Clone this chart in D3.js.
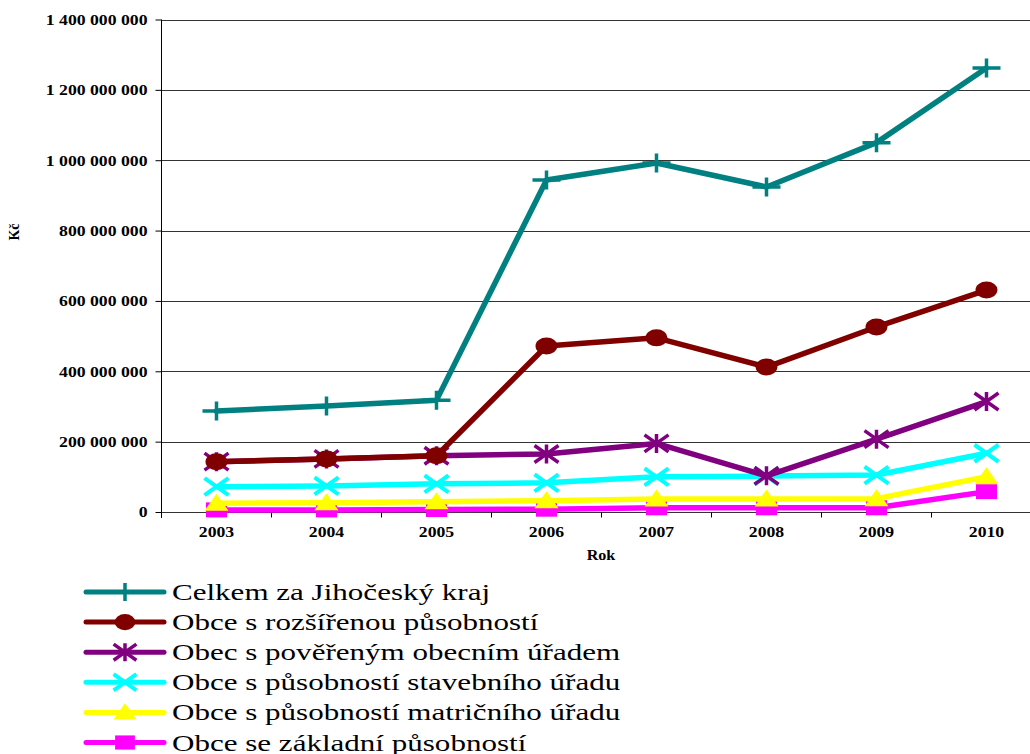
<!DOCTYPE html>
<html>
<head>
<meta charset="utf-8">
<script src="https://cdn.jsdelivr.net/npm/d3@7"></script>
<style>
  html, body { margin: 0; padding: 0; background: #fff; }
  svg { display: block; }
</style>
</head>
<body>
<svg id="chart" width="1030" height="754"></svg>
<script>
// Years on the category axis
const years = ["2003", "2004", "2005", "2006", "2007", "2008", "2009", "2010"];

// Expenditure per group of municipalities, Kč
const celkem      = [287e6, 301e6, 318e6, 944e6, 992e6, 924e6, 1050e6, 1262e6];
const rozsirenou  = [143e6, 151e6, 160e6, 472e6, 495e6, 412e6, 526e6, 631e6];
const poverenym   = [143e6, 151e6, 160e6, 165e6, 195e6, 103e6, 207e6, 314e6];
const stavebniho  = [72e6, 74e6, 80e6, 83e6, 100e6, 102e6, 105e6, 167e6];
const matricniho  = [25e6, 26e6, 29e6, 32e6, 37e6, 37e6, 38e6, 100e6];
const zakladni    = [6e6, 6e6, 7e6, 8e6, 12e6, 12e6, 12e6, 58e6];

const seriesNames = [
  "Celkem za Jihočeský kraj",
  "Obce s rozšířenou působností",
  "Obec s pověřeným obecním úřadem",
  "Obce s působností stavebního úřadu",
  "Obce s působností matričního úřadu",
  "Obce se základní působností"
];
const seriesColors = ["#008080", "#800000", "#800080", "#00ffff", "#ffff00", "#ff00ff"];
const seriesMarkers = ["plus", "circle", "star", "x", "triangle", "square"];
const seriesValues = [celkem, rozsirenou, poverenym, stavebniho, matricniho, zakladni];

const yTicks = [0, 200e6, 400e6, 600e6, 800e6, 1000e6, 1200e6, 1400e6];

const FONT = "Liberation Serif";

const series = seriesNames.map((name, i) => ({
  name, color: seriesColors[i], marker: seriesMarkers[i], values: seriesValues[i]
}));

const svg = d3.select("#chart");
const plot = { left: 161.5, right: 1041.5, top: 19.5, bottom: 512 };

const x = d3.scaleBand().domain(years).range([plot.left, plot.right]);
const cx = d => x(d) + x.bandwidth() / 2;
const y = d3.scaleLinear().domain([0, 1400e6]).range([plot.bottom, plot.top]);

const loc = d3.formatLocale({ decimal: ",", thousands: " ", grouping: [3], currency: ["", ""] });
const fmt = loc.format(",.0f");

// Horizontal gridlines
svg.append("g")
  .selectAll("line")
  .data(yTicks)
  .join("line")
  .attr("x1", plot.left).attr("x2", 1030)
  .attr("y1", d => Math.round(y(d)) + 0.5).attr("y2", d => Math.round(y(d)) + 0.5)
  .attr("stroke", "#333").attr("stroke-width", 1);

// Y axis
const yAxis = svg.append("g")
  .attr("transform", `translate(${plot.left},0)`)
  .call(d3.axisLeft(y).tickValues(yTicks).tickFormat(fmt).tickSize(6).tickPadding(0));
yAxis.attr("font-family", FONT);
yAxis.select(".domain").remove();
yAxis.append("line")
  .attr("x1", 0).attr("x2", 0).attr("y1", plot.top).attr("y2", plot.bottom + 6)
  .attr("stroke", "#000");
yAxis.selectAll(".tick line").attr("stroke", "#000");
yAxis.selectAll(".tick text")
  .attr("fill", "#000")
  .attr("x", null)
  .attr("transform", "translate(-14,0) scale(1.18,1)")
  .style("font-family", FONT)
  .style("font-size", "15px").style("font-weight", "bold");

// X axis
const xAxis = svg.append("g")
  .attr("transform", `translate(0,${plot.bottom + 0.5})`)
  .call(d3.axisBottom(x).tickSize(0).tickPadding(14));
xAxis.attr("font-family", FONT);
xAxis.select(".domain").attr("stroke", "#333").attr("d", `M${plot.left},0H1030`);
xAxis.selectAll(".tick text")
  .attr("fill", "#000")
  .attr("transform", "scale(1.18,1)")
  .style("font-family", FONT)
  .style("font-size", "15px").style("font-weight", "bold");
// Tick marks between categories
xAxis.append("g").selectAll("line")
  .data(years)
  .join("line")
  .attr("x1", d => x(d)).attr("x2", d => x(d))
  .attr("y1", 0).attr("y2", 5)
  .attr("stroke", "#000");

// Axis titles
svg.append("text")
  .attr("transform", "translate(19,232) rotate(-90)")
  .attr("text-anchor", "middle")
  .style("font-family", FONT)
  .style("font-size", "14px").style("font-weight", "bold")
  .text("Kč");
svg.append("text")
  .attr("transform", "translate(601,560) scale(1.15,1)")
  .attr("text-anchor", "middle")
  .style("font-family", FONT)
  .style("font-size", "14px").style("font-weight", "bold")
  .text("Rok");

// Marker shapes, slightly wider than tall
function drawMarker(g, type, color, px, py, s = 1) {
  const w = 12 * s, h = 8.5 * s;
  if (type === "plus") {
    g.append("path").attr("d", `M${px - w - 2},${py}H${px + w + 2}M${px},${py - h - 1}V${py + h + 1}`)
      .attr("stroke", color).attr("stroke-width", 3.5).attr("fill", "none");
  } else if (type === "circle") {
    g.append("ellipse").attr("cx", px).attr("cy", py).attr("rx", w - 1).attr("ry", h)
      .attr("fill", color);
  } else if (type === "star") {
    g.append("path").attr("d",
      `M${px - w},${py - h}L${px + w},${py + h}M${px - w},${py + h}L${px + w},${py - h}M${px},${py - h - 1}V${py + h + 1}`)
      .attr("stroke", color).attr("stroke-width", 3.5).attr("fill", "none");
  } else if (type === "x") {
    g.append("path").attr("d",
      `M${px - w},${py - h}L${px + w},${py + h}M${px - w},${py + h}L${px + w},${py - h}`)
      .attr("stroke", color).attr("stroke-width", 4).attr("fill", "none");
  } else if (type === "triangle") {
    g.append("path").attr("d", `M${px},${py - h - 1}L${px + w},${py + h - 1}L${px - w},${py + h - 1}Z`)
      .attr("fill", color);
  } else if (type === "square") {
    g.append("rect").attr("x", px - w + 1.5).attr("y", py - h + 1).attr("width", 2 * w - 3).attr("height", 2 * h - 2)
      .attr("fill", color);
  }
}

// Lines and markers; first series end up on top
const line = d3.line().x((d, i) => cx(years[i])).y(d => y(d));
const layers = svg.append("g");
series.slice().reverse().forEach(s => {
  const g = layers.append("g");
  g.append("path").datum(s.values)
    .attr("d", line)
    .attr("fill", "none").attr("stroke", s.color).attr("stroke-width", 5.5)
    .attr("stroke-linejoin", "round").attr("stroke-linecap", "round");
  s.values.forEach((v, i) => drawMarker(g, s.marker, s.color, cx(years[i]), y(v)));
});

// Legend
const legend = svg.append("g");
series.forEach((s, i) => {
  const ly = 592 + i * 30.1;
  const g = legend.append("g");
  g.append("line").attr("x1", 86).attr("x2", 164).attr("y1", ly).attr("y2", ly)
    .attr("stroke", s.color).attr("stroke-width", 5).attr("stroke-linecap", "round");
  drawMarker(g, s.marker, s.color, 125, ly, 0.95);
  g.append("text")
    .attr("transform", `translate(172,${ly + 8}) scale(1.35,1)`)
    .style("font-family", FONT)
    .style("font-size", "23px").attr("fill", "#000")
    .text(s.name);
});
</script>
</body>
</html>
